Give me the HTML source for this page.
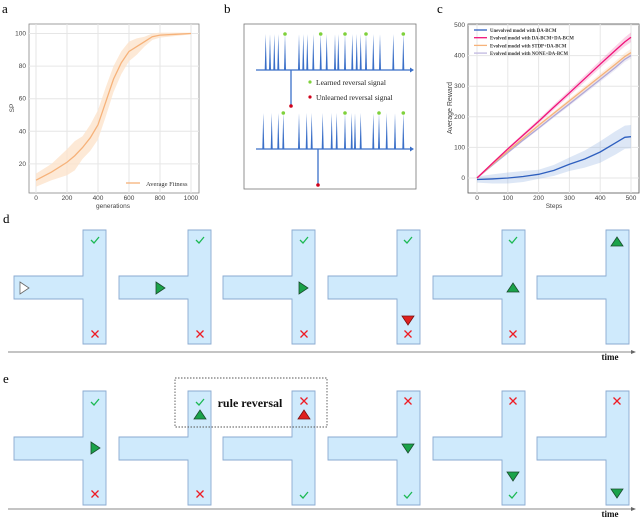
<!DOCTYPE html>
<html><head><meta charset="utf-8">
<style>
html,body{margin:0;padding:0;background:#fff;}
svg{display:block;font-family:"Liberation Sans",sans-serif;}
.serif{font-family:"Liberation Serif",serif;}
</style></head>
<body>
<svg id="fig" width="640" height="519" viewBox="0 0 640 519" xmlns="http://www.w3.org/2000/svg">
<text class="serif" x="2" y="13" font-size="13">a</text>
<text class="serif" x="224" y="13" font-size="13">b</text>
<text class="serif" x="437" y="13" font-size="13">c</text>
<text class="serif" x="3" y="223" font-size="13">d</text>
<text class="serif" x="3" y="383" font-size="13">e</text>
<g id="pa"></g>
<g id="pb"></g>
<g id="pc"></g>
<g id="pd"></g>
<g id="pe"></g>
</svg>
<script>
// Panel a data
const aGen = [0,100,200,250,300,350,400,450,500,550,600,650,700,750,800,900,1000];
const aFit = [10,15,21,25,30,36,44,58,72,82,89,92,95,98,99,99.5,100];
const aBand = [4,5,8,9,7,8,9,9,8,7,6,5,3,2,1.5,1,0.5];
const aXTicks = [0,200,400,600,800,1000];
const aYTicks = [20,40,60,80,100];
// Panel c data
const cSteps = [0,50,100,150,200,250,300,350,400,450,480,500];
const cBlue = [-5,-3,0,5,12,25,45,62,85,115,133,135];
const cBlueBand = [10,15,18,18,15,18,22,28,35,38,38,38];
const cPink = [0,48,95,140,185,232,278,325,372,418,445,460];
const cOrange = [0,45,88,130,172,212,252,292,332,372,397,410];
const cPurple = [0,42,83,124,163,203,242,282,322,362,388,400];
const cXTicks = [0,100,200,300,400,500];
const cYTicks = [0,100,200,300,400,500];
const cLegend = ["Unevolved model with DA-BCM","Evolved model with DA-BCM+DA-BCM","Evolved model with STDP+DA-BCM","Evolved model with NONE+DA-BCM"];
// Panel b spikes
const bTop = [265.7,270,274.3,278.3,285,299,303.3,307.3,313.3,320.7,326.7,335,338.3,345,352.3,356.7,360.7,366,373.3,380,393.3,403.3];
const bTopG = [285,320.7,345,366,403.3];
const bBot = [263.3,271.7,278.3,283.3,299,306.7,311.7,322.7,331.7,336.7,345,351.7,355,360.7,373.3,379,386.7,395,403.3];
const bBotG = [283.3,345,379,403.3];

const NS="http://www.w3.org/2000/svg";
function mk(p,tag,at,txt){const e=document.createElementNS(NS,tag);for(const k in at)e.setAttribute(k,at[k]);if(txt!==undefined)e.textContent=txt;p.appendChild(e);return e;}

// ---- Panel a
(function(){
const g=document.getElementById('pa');
const X=v=>36+v*(191-36)/1000, Y=v=>196.5-v*1.63;
mk(g,'rect',{x:29,y:24,width:170,height:169,fill:'#fff',stroke:'#888','stroke-width':0.8});
aXTicks.forEach(t=>{const l=mk(g,'line',{x1:X(t),x2:X(t),y1:24,y2:193,stroke:'#e6e6e6'});

const tx=mk(g,'text',{x:X(t),y:200,'font-size':6.5,'text-anchor':'middle',fill:'#444'},t);
});
aYTicks.forEach(t=>{mk(g,'line',{x1:29,x2:199,y1:Y(t),y2:Y(t),stroke:'#e6e6e6'});
const tx=mk(g,'text',{x:26,y:Y(t)+2,'font-size':6.5,'text-anchor':'end',fill:'#444'},t);
});
let up=aGen.map((x,i)=>X(x)+','+Y(Math.min(aFit[i]+aBand[i],101))), dn=aGen.map((x,i)=>X(x)+','+Y(aFit[i]-aBand[i])).reverse();
const band=mk(g,'polygon',{points:up.concat(dn).join(' '),fill:'#fde3cc',opacity:0.8});

const ln=mk(g,'polyline',{points:aGen.map((x,i)=>X(x)+','+Y(aFit[i])).join(' '),fill:'none',stroke:'#f6b27a','stroke-width':1.3});

mk(g,'line',{x1:126,x2:140,y1:183,y2:183,stroke:'#f6b27a','stroke-width':1.3});
const lt=mk(g,'text',{x:146,y:186,'font-size':6.5,'font-family':'Liberation Serif',fill:'#333'},'Average Fitness');

const yl=mk(g,'text',{x:14,y:108,'font-size':6.5,'text-anchor':'middle',fill:'#444',transform:'rotate(-90 14 108)'},'SP');

const xl=mk(g,'text',{x:113,y:208,'font-size':6.5,'text-anchor':'middle',fill:'#444'},'generations');

})();

// ---- Panel b
(function(){
const g=document.getElementById('pb'), blue='#3a6fc8';
mk(g,'rect',{x:244,y:24,width:172,height:165,fill:'#fff',stroke:'#777','stroke-width':0.8});
function train(list,greens,base,downX){
 mk(g,'line',{x1:256,x2:410,y1:base,y2:base,stroke:blue,'stroke-width':1.3});
 mk(g,'polygon',{points:`410,${base-2.5} 414,${base} 410,${base+2.5}`,fill:blue});
 list.forEach(x=>{const s=mk(g,'polygon',{points:`${x-1},${base} ${x},${base-36} ${x+1},${base}`,fill:blue});
  });
 greens.forEach(x=>{const c=mk(g,'circle',{cx:x,cy:base-36,r:1.8,fill:'#7fd13b'});
  });
 mk(g,'line',{x1:downX,x2:downX,y1:base,y2:base+35,stroke:blue,'stroke-width':1.3});
 const r=mk(g,'circle',{cx:downX,cy:base+36,r:1.8,fill:'#d0021b'});
 
}
train(bTop,bTopG,70,291);
train(bBot,bBotG,149,318);
mk(g,'circle',{cx:310,cy:82,r:1.6,fill:'#7fd13b'});
mk(g,'circle',{cx:310,cy:97,r:1.6,fill:'#d0021b'});
const t1=mk(g,'text',{x:316,y:85,'font-size':7.5,'font-family':'Liberation Serif',fill:'#222'},'Learned reversal signal');

const t2=mk(g,'text',{x:316,y:100,'font-size':7.5,'font-family':'Liberation Serif',fill:'#222'},'Unlearned reversal signal');

})();

// ---- Panel c
(function(){
const g=document.getElementById('pc');
const X=v=>477+v*(631-477)/500, Y=v=>178-v*0.306;
mk(g,'rect',{x:468,y:24,width:171,height:169,fill:'#fff',stroke:'#555','stroke-width':0.8});
cXTicks.forEach(t=>{mk(g,'line',{x1:X(t),x2:X(t),y1:24,y2:193,stroke:'#e6e6e6'});
const tx=mk(g,'text',{x:X(t),y:200,'font-size':6.5,'text-anchor':'middle',fill:'#444'},t);
});
cYTicks.forEach(t=>{mk(g,'line',{x1:468,x2:639,y1:Y(t),y2:Y(t),stroke:'#e6e6e6'});
const tx=mk(g,'text',{x:465,y:Y(t)+2,'font-size':6.5,'text-anchor':'end',fill:'#444'},t);
});
function band(vals,w,col,name){const up=cSteps.map((x,i)=>X(x)+','+Y(vals[i]+(typeof w==='number'?w*i/11+2:w[i])));
 const dn=cSteps.map((x,i)=>X(x)+','+Y(vals[i]-(typeof w==='number'?w*i/11+2:w[i]))).reverse();
 const p=mk(g,'polygon',{points:up.concat(dn).join(' '),fill:col,opacity:0.3});
 }
function line(vals,col,name){const l=mk(g,'polyline',{points:cSteps.map((x,i)=>X(x)+','+Y(vals[i])).join(' '),fill:'none',stroke:col,'stroke-width':1.3});
 }
band(cBlue,cBlueBand,'#8fb0e0','c-blue-band');
band(cPurple,8,'#c8c0e0','c-purple-band');
band(cOrange,10,'#f8c9a0','c-orange-band');
band(cPink,14,'#f070b0','c-pink-band');
line(cBlue,'#2e5fbf','c-unevolved-line');
line(cPurple,'#b0a8d8','c-none-line');
line(cOrange,'#f6b27a','c-stdp-line');
line(cPink,'#f0137a','c-dabcm-line');
const cols=['#2e5fbf','#f0137a','#f6b27a','#c0b8e0'];
cLegend.forEach((s,i)=>{const y=30+i*7.7;mk(g,'line',{x1:474,x2:487,y1:y,y2:y,stroke:cols[i],'stroke-width':1.3});
 const t=mk(g,'text',{x:490,y:y+2,'font-size':4.8,'font-family':'Liberation Serif','font-weight':'bold',fill:'#333'},s);
 });
const yl=mk(g,'text',{x:452,y:108,'font-size':7,'text-anchor':'middle',fill:'#444',transform:'rotate(-90 452 108)'},'Average Reward');

const xl=mk(g,'text',{x:554,y:208,'font-size':6.5,'text-anchor':'middle',fill:'#444'},'Steps');

})();

// ---- Mazes
const mazeXs=[83,188,292,397,502,606];
function maze(g,vx,top){
 const a=top+46, b=top+69, bot=top+114;
 const p=mk(g,'path',{d:`M${vx},${top} H${vx+23} V${bot} H${vx} V${b} H${vx-69} V${a} H${vx} Z`,fill:'#cfeafc',stroke:'#8aaad0','stroke-width':0.9});
 
}
function check(g,cx,cy){const e=mk(g,'path',{d:`M${cx-4},${cy} L${cx-1},${cy+3} L${cx+4},${cy-3}`,fill:'none',stroke:'#1db954','stroke-width':1.3});
 }
function cross(g,cx,cy){const e=mk(g,'path',{d:`M${cx-3.5},${cy-3.5} L${cx+3.5},${cy+3.5} M${cx+3.5},${cy-3.5} L${cx-3.5},${cy+3.5}`,stroke:'#ee1c25','stroke-width':1.3});
 }
function tri(g,cx,cy,dir,fill,stroke){let pts;
 if(dir==='r')pts=`${cx-4},${cy-6} ${cx+5},${cy} ${cx-4},${cy+6}`;
 else if(dir==='u')pts=`${cx-6},${cy+4} ${cx},${cy-5} ${cx+6},${cy+4}`;
 else pts=`${cx-6},${cy-4} ${cx},${cy+5} ${cx+6},${cy-4}`;
 const e=mk(g,'polygon',{points:pts,fill:fill,stroke:stroke||'#1a4d2e','stroke-width':0.8});
 }
function timeline(g,y,ty){mk(g,'line',{x1:8,x2:632,y1:y,y2:y,stroke:'#888','stroke-width':0.9});
 mk(g,'polygon',{points:`631,${y-2} 636,${y} 631,${y+2}`,fill:'#666'});
 const t=mk(g,'text',{x:610,y:ty,'font-size':9,'font-family':'Liberation Serif','font-weight':'bold',fill:'#111','text-anchor':'middle'},'time');
 }
(function(){
const g=document.getElementById('pd'), T=230;
mazeXs.forEach(x=>maze(g,x,T));
const G='#1aa34a';
check(g,95,240); cross(g,95,334); tri(g,24,288,'r','#fff','#666');
check(g,200,240); cross(g,200,334); tri(g,160,288,'r',G);
check(g,304,240); cross(g,304,334); tri(g,303,288,'r',G);
check(g,408,240); cross(g,408,334); tri(g,408,320,'d','#e0201e','#7a1010');
check(g,513,240); cross(g,513,334); tri(g,513,288,'u',G);
tri(g,617,242,'u',G);
timeline(g,352,360);
})();
(function(){
const g=document.getElementById('pe'), T=391;
mazeXs.forEach(x=>maze(g,x,T));
const G='#1aa34a';
check(g,95,402); cross(g,95,494); tri(g,95,448,'r',G);
check(g,200,402); cross(g,200,494); tri(g,200,415,'u',G);
cross(g,304,401); check(g,304,495); tri(g,304,415,'u','#e0201e','#7a1010');
cross(g,408,401); check(g,408,495); tri(g,408,448,'d',G);
cross(g,513,401); check(g,513,495); tri(g,513,476,'d',G);
cross(g,617,401); tri(g,617,493,'d',G);
const box=mk(g,'rect',{x:175,y:378,width:152,height:49,fill:'none',stroke:'#555','stroke-width':0.9,'stroke-dasharray':'1.5,1.5'});

const t=mk(g,'text',{x:250,y:407,'font-size':12,'font-family':'Liberation Serif','font-weight':'bold',fill:'#111','text-anchor':'middle'},'rule reversal');

timeline(g,509,517);
})();
</script>
</body></html>
